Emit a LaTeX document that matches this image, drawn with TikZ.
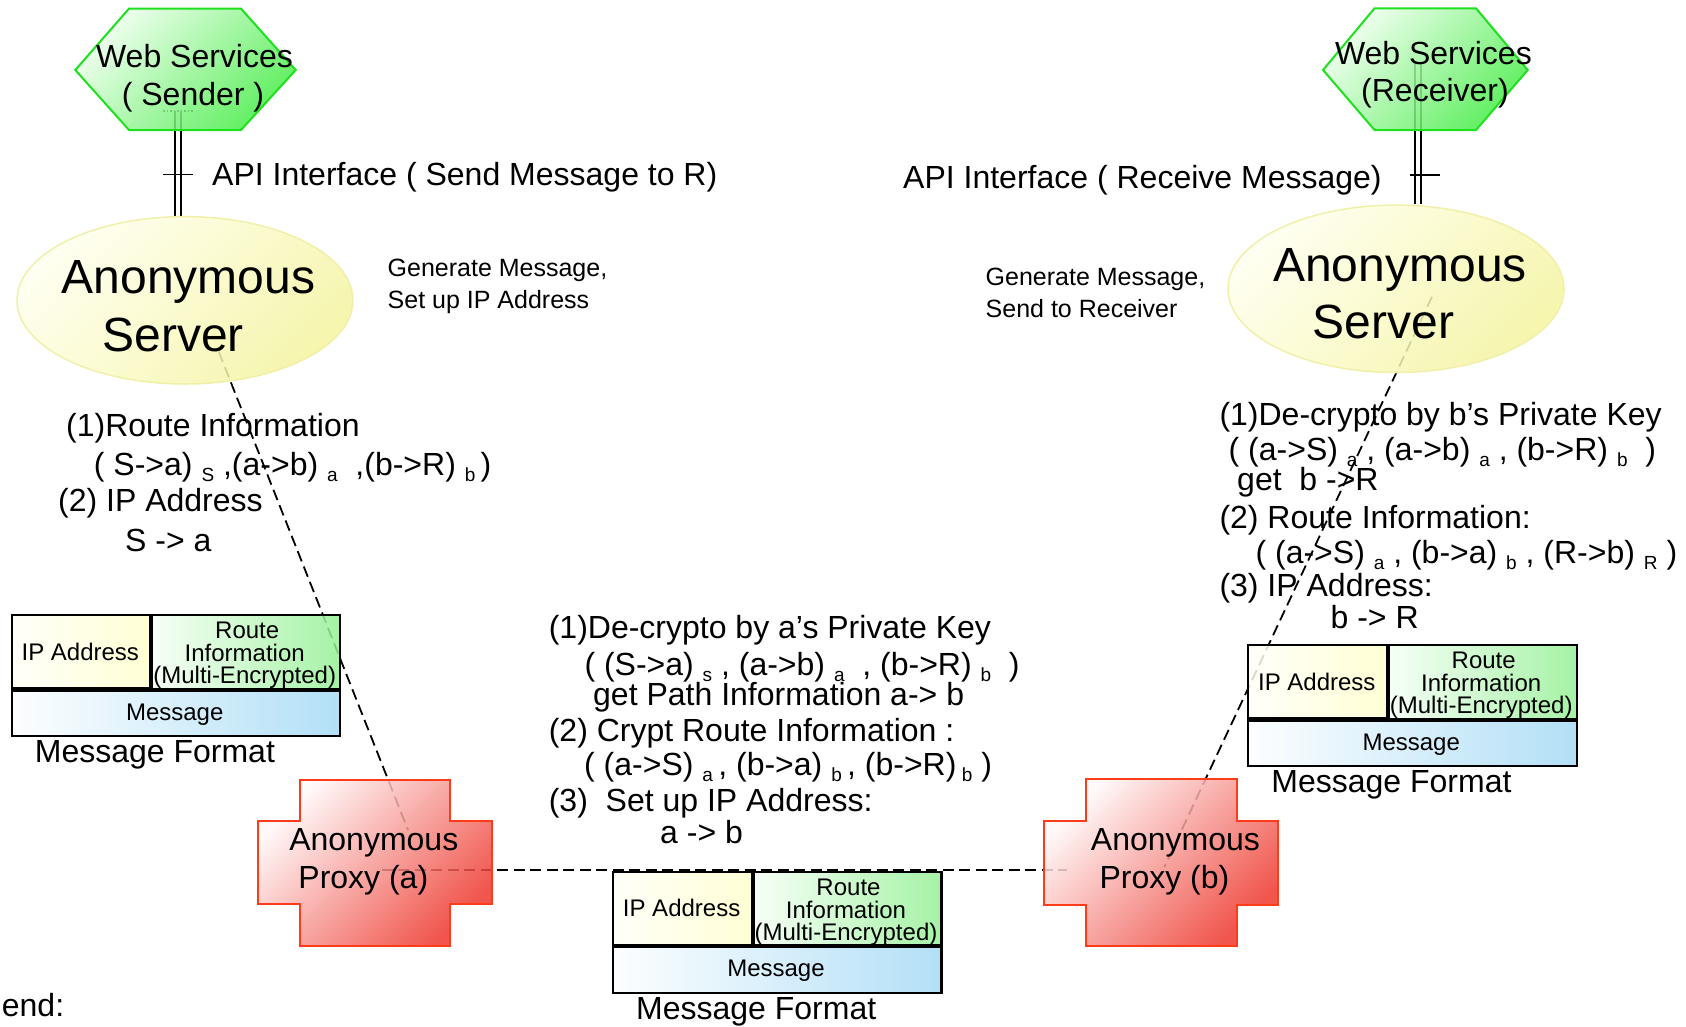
\documentclass[tikz,border=0pt]{standalone}
\usepackage{fontspec}
\setmainfont{Liberation Sans}
\usetikzlibrary{shapes.geometric,calc}

% lowered small index after a route pair, e.g. (a->b) with key index a
\newcommand\sbx[1]{\raisebox{-6pt}{\fontsize{19}{19}\selectfont #1}}

\definecolor{hexLight}{RGB}{236,255,236}
\definecolor{hexDark}{RGB}{70,236,70}
\definecolor{hexLine}{RGB}{30,225,30}
\definecolor{ellLight}{RGB}{255,255,238}
\definecolor{ellDark}{RGB}{244,244,160}
\definecolor{ellLine}{RGB}{240,240,170}
\definecolor{proxLight}{RGB}{255,248,248}
\definecolor{proxDark}{RGB}{238,55,45}
\definecolor{proxLine}{RGB}{255,60,25}
\definecolor{ipLight}{RGB}{255,255,248}
\definecolor{ipDark}{RGB}{255,255,205}
\definecolor{rtLight}{RGB}{245,255,245}
\definecolor{rtDark}{RGB}{150,240,150}
\definecolor{msgLight}{RGB}{252,254,255}
\definecolor{msgDark}{RGB}{165,218,245}

\pgfdeclarelayer{bg}
\pgfsetlayers{bg,main}

% one "Message Format" block: #1 top-left corner, #2 name prefix
\newcommand\msgformat[2]{%
  \begin{scope}[shift={#1}]
    \node[ipcell, anchor=north west, minimum width=138.6pt, minimum height=73.3pt] (#2ip) at (0,0) {};
    \node[rtcell, anchor=north west, minimum width=187.9pt, minimum height=73.5pt] (#2rt) at (140.4,0) {};
    \node[msgcell, anchor=north west, minimum width=328.3pt, minimum height=45.5pt] (#2msg) at (0,75.5) {};
    \node[cell, anchor=base] (#2ipT) at (69.6,46) {IP Address};
    \node[cell, anchor=base] (#2rt1) at (236.5,24.3) {Route};
    \node[cell, anchor=base] (#2rt2) at (234,47.7) {Information};
    \node[cell, anchor=base] (#2rt3) at (234,69.3) {(Multi-Encrypted)};
    \node[cell, anchor=base] (#2msgT) at (164,106) {Message};
    \node[mid, anchor=base west] (#2cap) at (24,148.5) {Message Format};
  \end{scope}}

\begin{document}
\begin{tikzpicture}[x=1pt,y=-1pt,
  big/.style={font=\fontsize{48}{58}\selectfont, inner sep=0pt},
  mid/.style={font=\fontsize{32}{38}\selectfont, inner sep=0pt},
  gen/.style={font=\fontsize{25}{30}\selectfont, inner sep=0pt},
  cell/.style={font=\fontsize{24}{24}\selectfont, inner sep=0pt},
  hexshape/.style={draw=hexLine, line width=2pt, top color=hexLight, bottom color=hexDark, shading angle=45, fill opacity=.85},
  server/.style={ellipse, draw=ellLine, line width=1.5pt, top color=ellLight, bottom color=ellDark, shading angle=45, fill opacity=.85, minimum width=336pt, minimum height=167.4pt, inner sep=0pt},
  proxyshape/.style={draw=proxLine, line width=2pt, top color=proxLight, bottom color=proxDark, shading angle=45, fill opacity=.85},
  ipcell/.style={draw, line width=2.2pt, left color=ipLight, right color=ipDark, fill opacity=.85, inner sep=0pt},
  rtcell/.style={draw, line width=2.2pt, left color=rtLight, right color=rtDark, fill opacity=.85, inner sep=0pt},
  msgcell/.style={draw, line width=2.2pt, left color=msgLight, right color=msgDark, fill opacity=.85, inner sep=0pt},
  dashline/.style={line width=1.8pt, dash pattern=on 11pt off 5.5pt},
  apiline/.style={line width=1.8pt, double=white, double distance=3.9pt},
  tickline/.style={line width=1.5pt}]
\useasboundingbox (0,0) rectangle (1686,1026);

% ---------- Web services (hexagons)
\path[hexshape] (129,8.6) -- (241,8.6) -- (295.7,70) -- (241,130) -- (129,130) -- (75.3,70) -- cycle;
\path[hexshape] (1374.5,8.3) -- (1476,8.3) -- (1527.7,70) -- (1476,130) -- (1374.5,130) -- (1323,70) -- cycle;

% ---------- Anonymous servers
\node[server] (sEll) at (185,300.3) {};
\node[server] (rEll) at (1396,288.8) {};

% ---------- Anonymous proxies (cross shapes)
\path[proxyshape] (300,780) -- (450,780) -- (450,820.7) -- (491.7,820.7) -- (491.7,904.3) -- (450,904.3) -- (450,946) -- (300,946) -- (300,904.3) -- (258.3,904.3) -- (258.3,820.7) -- (300,820.7) -- cycle;
\path[proxyshape] (1085.8,779.3) -- (1236.6,779.3) -- (1236.6,821) -- (1277.8,821) -- (1277.8,905) -- (1236.6,905) -- (1236.6,946) -- (1085.8,946) -- (1085.8,905) -- (1044.2,905) -- (1044.2,821) -- (1085.8,821) -- cycle;

% ---------- message formats
\msgformat{(10.7,614)}{L}
\msgformat{(612,870.7)}{M}
\msgformat{(1247.2,644)}{R}

% ---------- connector end points
\coordinate (sIn) at (218.75,351.7);
\coordinate (aIn) at (408,830);
\coordinate (aMid) at (381.7,870);
\coordinate (bMid) at (1066.7,870);
\coordinate (rIn) at (1432,296.7);
\coordinate (bIn) at (1164.4,866.7);
\coordinate (sApi) at (177.9,111);
\coordinate (rApi) at (1417.9,62);

\begin{pgfonlayer}{bg}
  \draw[dashline] (sIn) -- (aIn);
  \draw[dashline] (aMid) -- (bMid);
  \draw[dashline] (rIn) -- (bIn);
  \draw[apiline] (sApi) -- (sApi |- sEll.north);
  \draw[apiline] (rApi) -- (rApi |- rEll.north);
  \draw[tickline, dotted] (163,111) -- (193,111);
  \draw[tickline] (163,174.5) -- (193,174.5);
  \draw[tickline] (1410,175) -- (1440,175);
\end{pgfonlayer}

% ---------- labels
\node[mid, anchor=base] (wsS1) at (194.5,67) {Web Services};
\node[mid, anchor=base] (wsS2) at (193,105) {( Sender )};
\node[mid, anchor=base] (wsR1) at (1433.4,64) {Web Services};
\node[mid, anchor=base] (wsR2) at (1435,101.7) {(Receiver)};

\node[mid, anchor=base west] (apiS) at (212,185) {API Interface ( Send Message to R)};
\node[mid, anchor=base west] (apiR) at (903,188.3) {API Interface ( Receive Message)};

\node[big, anchor=base] (sAnon) at (188.6,293.3) {Anonymous};
\node[big, anchor=base] (sServ) at (173.3,351.7) {Server};
\node[big, anchor=base] (rAnon) at (1400,281.7) {Anonymous};
\node[big, anchor=base] (rServ) at (1383.6,338.3) {Server};

\node[gen, anchor=base west] (genS1) at (387.5,276.7) {Generate Message,};
\node[gen, anchor=base west] (genS2) at (387.5,308) {Set up IP Address};
\node[gen, anchor=base west] (genR1) at (985.5,285) {Generate Message,};
\node[gen, anchor=base west] (genR2) at (985.5,317.3) {Send to Receiver};

% sender side steps
\node[mid, anchor=base west] (ls1) at (66,436.7) {(1)Route Information};
\node[mid, anchor=base west] (ls2) at (93.75,475) {( S->a) \sbx{S} ,(a->b) \sbx{a}\ \ ,(b->R) \sbx{b}\,)};
\node[mid, anchor=base west] (ls3) at (58,511.7) {(2) IP Address};
\node[mid, anchor=base west] (ls4) at (125,551.7) {S -> a};

% proxy (a) steps
\node[mid, anchor=base west] (ms1) at (548.6,638.3) {(1)De-crypto by a’s Private Key};
\node[mid, anchor=base west] (ms2) at (584.3,675) {( (S->a) \sbx{s} , (a->b) \sbx{a}\ \ , (b->R) \sbx{b}\ \ )};
\node[mid, anchor=base west] (ms3) at (593,705) {get Path Information a-> b};
\node[mid, anchor=base west] (ms4) at (548.6,741.7) {(2) Crypt Route Information :};
\node[mid, anchor=base west] (ms5) at (584,775) {( (a->S) \sbx{a}\,, (b->a) \sbx{b}\,, (b->R)\,\sbx{b} )};
\node[mid, anchor=base west] (ms6) at (548.6,811.7) {(3)\ \ Set up IP Address:};
\node[mid, anchor=base west] (ms7) at (660,843.3) {a -> b};

% proxy (b) steps
\node[mid, anchor=base west] (rs1) at (1219.3,425) {(1)De-crypto by b’s Private Key};
\node[mid, anchor=base west] (rs2) at (1228.5,460) {( (a->S) \sbx{a} , (a->b) \sbx{a} , (b->R) \sbx{b}\ \ )};
\node[mid, anchor=base west] (rs3) at (1237,490) {get\ \ b ->R};
\node[mid, anchor=base west] (rs4) at (1219.3,528.3) {(2) Route Information:};
\node[mid, anchor=base west] (rs5) at (1255.4,563.3) {( (a->S) \sbx{a} , (b->a) \sbx{b} , (R->b) \sbx{R} )};
\node[mid, anchor=base west] (rs6) at (1219.3,596.7) {(3) IP Address:};
\node[mid, anchor=base west] (rs7) at (1330.4,628.3) {b -> R};

% proxies
\node[mid, anchor=base] (aAnon) at (373.8,850) {Anonymous};
\node[mid, anchor=base] (aProx) at (363.3,888.3) {Proxy (a)};
\node[mid, anchor=base] (bAnon) at (1175.4,850) {Anonymous};
\node[mid, anchor=base] (bProx) at (1164.4,888.3) {Proxy (b)};

\node[mid, anchor=base west] (endT) at (1.7,1016.7) {end:};
\end{tikzpicture}
\end{document}
